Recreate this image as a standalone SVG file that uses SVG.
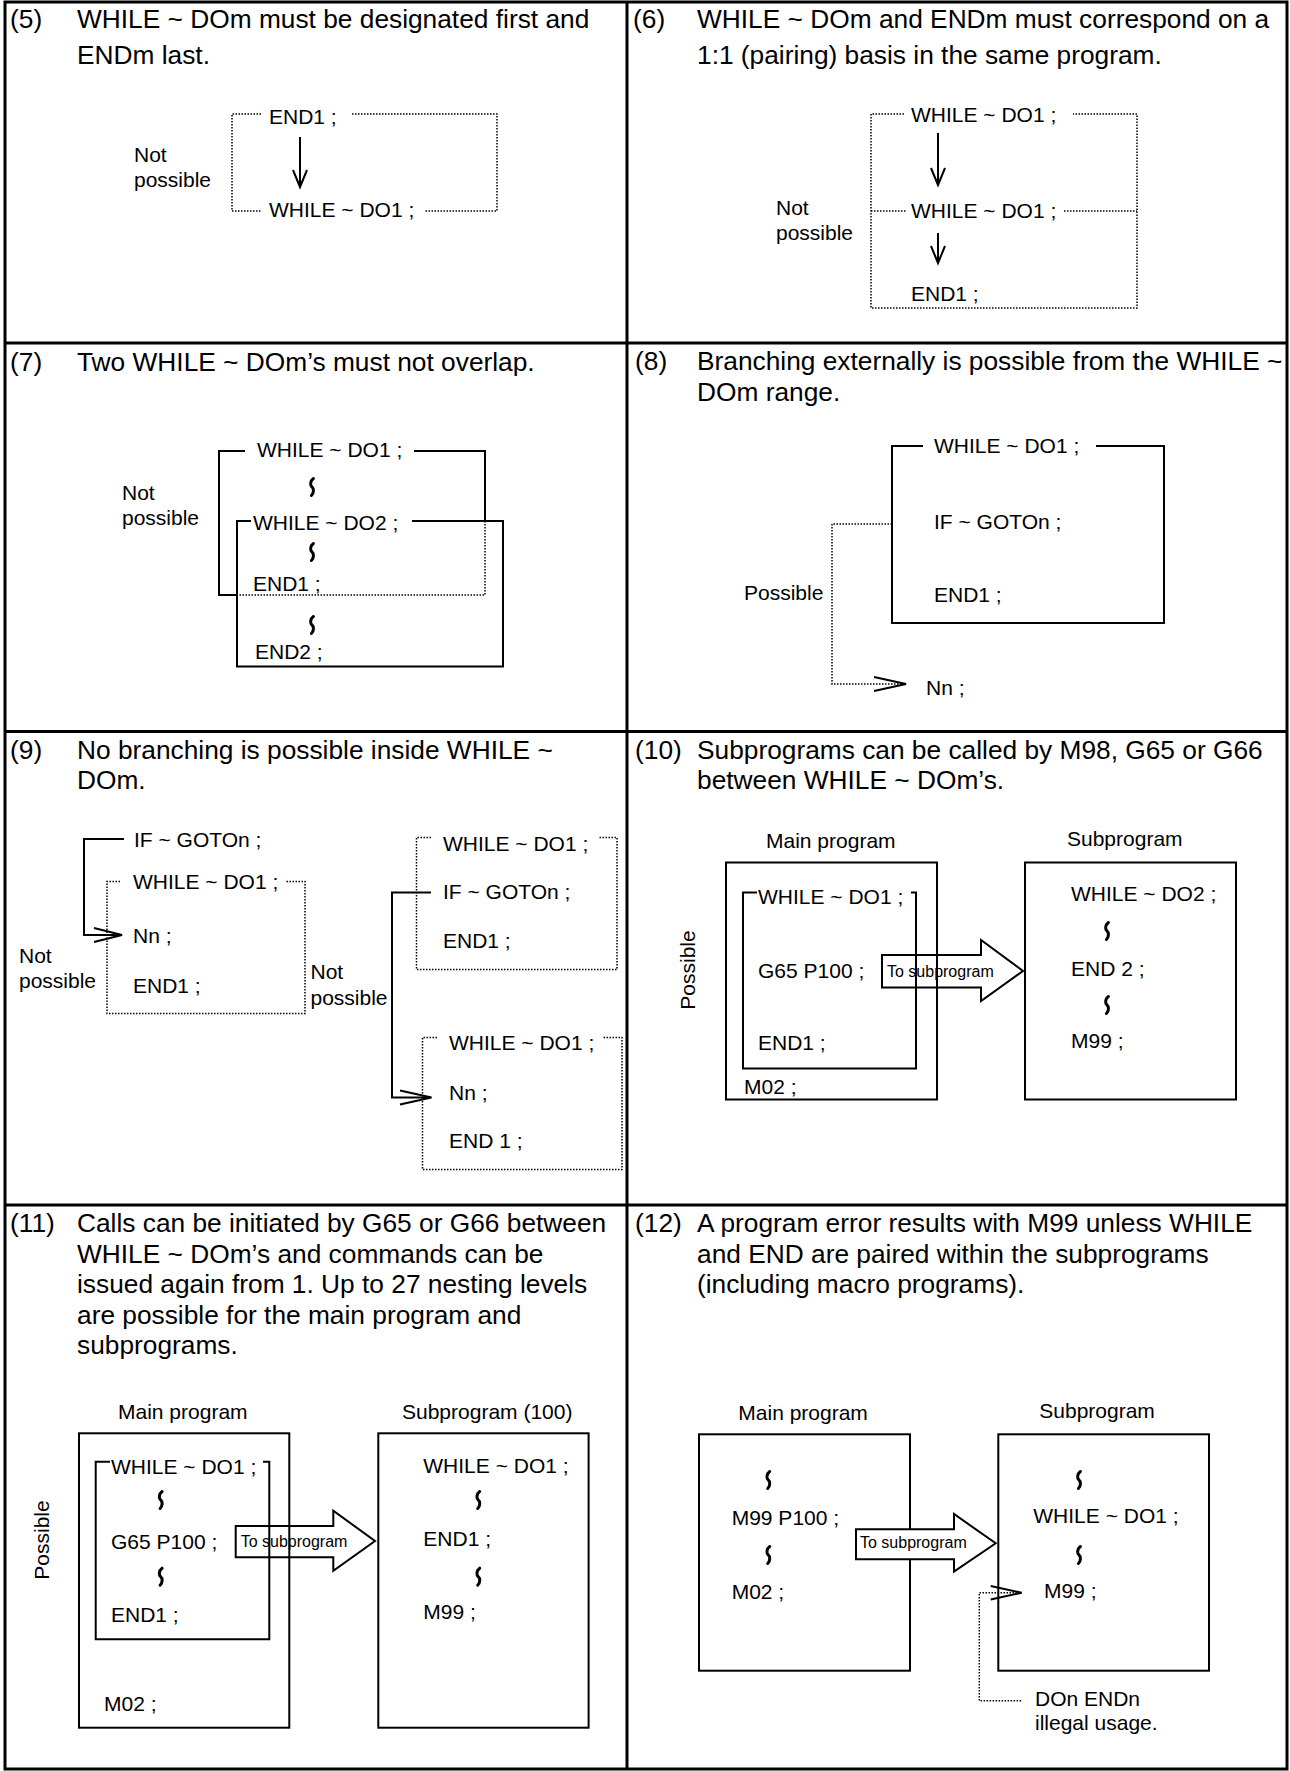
<svg xmlns="http://www.w3.org/2000/svg" width="1290" height="1771" viewBox="0 0 1290 1771">
<style>
text{font-family:"Liberation Sans",Arial,sans-serif;fill:#000}
.t{font-size:26.3px}
.d{font-size:21px}
.s{font-size:16px}
.ln{fill:none;stroke:#000;stroke-width:2}
.dt{fill:none;stroke:#000;stroke-width:1.5;stroke-dasharray:1.5 1.5}
.bd{fill:none;stroke:#000;stroke-width:3}
.wv{fill:none;stroke:#000;stroke-width:3;stroke-linecap:round}
.ah{fill:none;stroke:#000;stroke-width:2}
.big{fill:none;stroke:#000;stroke-width:2}
.bigw{fill:#fff;stroke:#000;stroke-width:2}
</style>
<defs>
<path id="wave" class="wv" d="M 1.4,-8.5 C -2,-6 -2,-1.5 0,0 C 2,1.5 2,6 -0.6,8.5"/>
</defs>
<rect width="1290" height="1771" fill="#fff"/>
<g id="frame">
<rect class="bd" x="5" y="2" width="1282" height="1767"/>
<line class="bd" x1="627" y1="2" x2="627" y2="1769"/>
<line class="bd" x1="5" y1="343" x2="1287" y2="343"/>
<line class="bd" x1="5" y1="731.5" x2="1287" y2="731.5"/>
<line class="bd" x1="5" y1="1205" x2="1287" y2="1205"/>
</g>

<!-- (5) -->
<g id="cell5">
<g id="t5"><text class="t" x="10" y="27.5">(5)</text><text class="t" x="77" y="27.5">WHILE ~ DOm must be designated first and</text><text class="t" x="77" y="64">ENDm last.</text></g>
<g id="n5a"><text class="d" x="269" y="124">END1 ;</text></g>
<g id="n5b"><text class="d" x="269" y="217">WHILE ~ DO1 ;</text></g>
<g id="n5c"><text class="d" x="134" y="162">Not</text><text class="d" x="134" y="187">possible</text></g>
<g id="c5">
<polyline class="dt" points="261,114 232,114 232,211 261,211"/>
<polyline class="dt" points="352,114 497,114 497,211 424,211"/>
<line class="ln" x1="300" y1="137" x2="300" y2="186"/>
<polyline class="ah" points="293,170 300,187 307,170"/>
</g>
</g>

<!-- (6) -->
<g id="cell6">
<g id="t6"><text class="t" x="633" y="27.5">(6)</text><text class="t" x="697" y="27.5">WHILE ~ DOm and ENDm must correspond on a</text><text class="t" x="697" y="64">1:1 (pairing) basis in the same program.</text></g>
<g id="n6a"><text class="d" x="911" y="122">WHILE ~ DO1 ;</text></g>
<g id="n6b"><text class="d" x="911" y="218">WHILE ~ DO1 ;</text></g>
<g id="n6c"><text class="d" x="911" y="301">END1 ;</text></g>
<g id="n6d"><text class="d" x="776" y="215">Not</text><text class="d" x="776" y="240">possible</text></g>
<g id="c6">
<polyline class="dt" points="904,114 871,114 871,308 1137,308 1137,114 1073,114"/>
<line class="dt" x1="871" y1="211" x2="906" y2="211"/>
<line class="dt" x1="1064" y1="211" x2="1137" y2="211"/>
<line class="ln" x1="938" y1="133" x2="938" y2="184"/>
<polyline class="ah" points="931,168 938,185 945,168"/>
<line class="ln" x1="938" y1="233" x2="938" y2="262"/>
<polyline class="ah" points="931,246 938,263 945,246"/>
</g>
</g>

<!-- (7) -->
<g id="cell7">
<g id="t7"><text class="t" x="10" y="371">(7)</text><text class="t" x="77" y="371">Two WHILE ~ DOm’s must not overlap.</text></g>
<g id="n7a"><text class="d" x="257" y="456.5">WHILE ~ DO1 ;</text></g>
<g id="n7b"><text class="d" x="253" y="530">WHILE ~ DO2 ;</text></g>
<g id="n7c"><text class="d" x="253" y="590.5">END1 ;</text></g>
<g id="n7d"><text class="d" x="255" y="659">END2 ;</text></g>
<g id="n7e"><text class="d" x="122" y="500">Not</text><text class="d" x="122" y="524.5">possible</text></g>
<g id="c7">
<polyline class="ln" points="245,451 219,451 219,595 237,595"/>
<polyline class="ln" points="414,451 485,451 485,521"/>
<polyline class="dt" points="485,521 485,595 237,595"/>
<polyline class="ln" points="251,521 237,521 237,666.5 503,666.5 503,521 412,521"/>
<use href="#wave" x="312" y="487"/>
<use href="#wave" x="312" y="552"/>
<use href="#wave" x="312" y="625"/>
</g>
</g>

<!-- (8) -->
<g id="cell8">
<g id="t8"><text class="t" x="635" y="370">(8)</text><text class="t" x="697" y="370">Branching externally is possible from the WHILE ~</text><text class="t" x="697" y="401">DOm range.</text></g>
<g id="n8a"><text class="d" x="934" y="453">WHILE ~ DO1 ;</text></g>
<g id="n8b"><text class="d" x="934" y="529">IF ~ GOTOn ;</text></g>
<g id="n8c"><text class="d" x="934" y="602">END1 ;</text></g>
<g id="n8d"><text class="d" x="926" y="695">Nn ;</text></g>
<g id="n8e"><text class="d" x="744" y="600">Possible</text></g>
<g id="c8">
<polyline class="ln" points="923,446 892,446 892,623 1164,623 1164,446 1096,446"/>
<polyline class="dt" points="892,524 832,524 832,684 904,684"/>
<polyline class="ah" points="874,677 906,684 874,691"/>
</g>
</g>

<!-- (9) -->
<g id="cell9">
<g id="t9"><text class="t" x="10" y="759">(9)</text><text class="t" x="77" y="759">No branching is possible inside WHILE ~</text><text class="t" x="77" y="789">DOm.</text></g>
<g id="n9a"><text class="d" x="134" y="846.5">IF ~ GOTOn ;</text></g>
<g id="n9b"><text class="d" x="133" y="888.5">WHILE ~ DO1 ;</text></g>
<g id="n9c"><text class="d" x="133" y="943">Nn ;</text></g>
<g id="n9d"><text class="d" x="133" y="993">END1 ;</text></g>
<g id="n9e"><text class="d" x="19" y="963">Not</text><text class="d" x="19" y="988">possible</text></g>
<g id="n9f"><text class="d" x="310.5" y="979">Not</text><text class="d" x="310.5" y="1005">possible</text></g>
<g id="n9g"><text class="d" x="443" y="850.5">WHILE ~ DO1 ;</text></g>
<g id="n9h"><text class="d" x="443" y="899">IF ~ GOTOn ;</text></g>
<g id="n9i"><text class="d" x="443" y="948">END1 ;</text></g>
<g id="n9j"><text class="d" x="449" y="1050">WHILE ~ DO1 ;</text></g>
<g id="n9k"><text class="d" x="449" y="1100">Nn ;</text></g>
<g id="n9l"><text class="d" x="449" y="1148">END 1 ;</text></g>
<g id="c9">
<polyline class="ln" points="124,839 84,839 84,935 120,935"/>
<polyline class="ah" points="94,928 122,935 94,942"/>
<polyline class="dt" points="120,881.5 107,881.5 107,1013.5 305,1013.5 305,881.5 286,881.5"/>
<polyline class="dt" points="431,837.5 416.5,837.5 416.5,969.5 617,969.5 617,837.5 598,837.5"/>
<polyline class="ln" points="431,892.5 392,892.5 392,1097.5 429,1097.5"/>
<polyline class="ah" points="400,1090.5 431.5,1097.5 400,1104.5"/>
<polyline class="dt" points="437,1037.5 422.5,1037.5 422.5,1169.5 622,1169.5 622,1037.5 602,1037.5"/>
</g>
</g>

<!-- (10) -->
<g id="cell10">
<g id="t10"><text class="t" x="635" y="759">(10)</text><text class="t" x="697" y="759">Subprograms can be called by M98, G65 or G66</text><text class="t" x="697" y="789">between WHILE ~ DOm’s.</text></g>
<g id="n10a"><text class="d" x="766" y="848">Main program</text></g>
<g id="n10b"><text class="d" x="1067" y="845.5">Subprogram</text></g>
<g id="n10c"><rect class="ln" x="726" y="862.5" width="211" height="237"/>
<text class="d" x="758" y="904">WHILE ~ DO1 ;</text>
<text class="d" x="758" y="977.5">G65 P100 ;</text>
<text class="d" x="758" y="1050">END1 ;</text>
<text class="d" x="744" y="1094">M02 ;</text></g>
<g id="n10d"><rect class="ln" x="1025" y="862.5" width="211" height="237"/>
<text class="d" x="1071" y="901">WHILE ~ DO2 ;</text>
<text class="d" x="1071" y="975.5">END 2 ;</text>
<text class="d" x="1071" y="1047.5">M99 ;</text>
<use href="#wave" x="1107" y="931"/>
<use href="#wave" x="1107" y="1005"/></g>
<g id="n10e"><text class="d" transform="translate(695.2,970) rotate(-90)" text-anchor="middle">Possible</text></g>
<g id="c10">
<polyline class="ln" points="757,892.5 743,892.5 743,1068.5 916,1068.5 916,892.5 911,892.5"/>
<polygon class="big" points="882,955 981,955 981,940 1023,971 981,1001 981,987.5 882,987.5"/>
<text class="s" x="887" y="976.5">To subprogram</text>
</g>
</g>

<!-- (11) -->
<g id="cell11">
<g id="t11"><text class="t" x="10" y="1232">(11)</text>
<text class="t" x="77" y="1232">Calls can be initiated by G65 or G66 between</text>
<text class="t" x="77" y="1262.5">WHILE ~ DOm’s and commands can be</text>
<text class="t" x="77" y="1293">issued again from 1. Up to 27 nesting levels</text>
<text class="t" x="77" y="1323.5">are possible for the main program and</text>
<text class="t" x="77" y="1354">subprograms.</text></g>
<g id="n11a"><text class="d" x="118" y="1419">Main program</text></g>
<g id="n11b"><text class="d" x="402" y="1419">Subprogram (100)</text></g>
<g id="n11c"><rect class="ln" x="79" y="1433.3" width="210.3" height="294.4"/>
<text class="d" x="111" y="1474">WHILE ~ DO1 ;</text>
<text class="d" x="111" y="1548.5">G65 P100 ;</text>
<text class="d" x="111" y="1621.5">END1 ;</text>
<text class="d" x="104" y="1710.8">M02 ;</text>
<use href="#wave" x="160.7" y="1500"/>
<use href="#wave" x="160.7" y="1576.7"/></g>
<g id="n11d"><rect class="ln" x="378.3" y="1433.3" width="210.3" height="294.4"/>
<text class="d" x="423.3" y="1472.5">WHILE ~ DO1 ;</text>
<text class="d" x="423.3" y="1545.8">END1 ;</text>
<text class="d" x="423.3" y="1619">M99 ;</text>
<use href="#wave" x="478.3" y="1500"/>
<use href="#wave" x="478.3" y="1576.7"/></g>
<g id="n11e"><text class="d" transform="translate(49.2,1540) rotate(-90)" text-anchor="middle">Possible</text></g>
<g id="c11">
<polyline class="ln" points="110,1461.7 95.7,1461.7 95.7,1639.3 269.3,1639.3 269.3,1461.7 263,1461.7"/>
<polygon class="big" points="235.7,1526 333.3,1526 333.3,1510.7 375,1541 333.3,1570.7 333.3,1557.3 235.7,1557.3"/>
<text class="s" x="240.7" y="1546.7">To subprogram</text>
</g>
</g>

<!-- (12) -->
<g id="cell12">
<g id="t12"><text class="t" x="635" y="1232">(12)</text>
<text class="t" x="697" y="1232">A program error results with M99 unless WHILE</text>
<text class="t" x="697" y="1262.5">and END are paired within the subprograms</text>
<text class="t" x="697" y="1293">(including macro programs).</text></g>
<g id="n12a"><text class="d" x="738.3" y="1419.8">Main program</text></g>
<g id="n12b"><text class="d" x="1039.3" y="1417.5">Subprogram</text></g>
<g id="n12c"><rect class="ln" x="699" y="1434.3" width="211" height="236.4"/>
<text class="d" x="731.7" y="1525.2">M99 P100 ;</text>
<text class="d" x="731.7" y="1599.2">M02 ;</text>
<use href="#wave" x="768.3" y="1480"/>
<use href="#wave" x="768.3" y="1555"/></g>
<g id="n12d"><rect class="ln" x="998.3" y="1434.3" width="210.7" height="236.4"/>
<text class="d" x="1033.3" y="1523.2">WHILE ~ DO1 ;</text>
<text class="d" x="1044" y="1597.5">M99 ;</text>
<use href="#wave" x="1079" y="1480"/>
<use href="#wave" x="1079" y="1555"/></g>
<g id="n12e"><text class="d" x="1035" y="1705.8">DOn ENDn</text><text class="d" x="1035" y="1730.2">illegal usage.</text></g>
<g id="c12">
<polygon class="bigw" points="856,1529.3 954,1529.3 954,1514 995.7,1543.3 954,1571.7 954,1559.3 856,1559.3"/>
<text class="s" x="860" y="1547.5">To subprogram</text>
<polyline class="dt" points="1020,1592.7 979.3,1592.7 979.3,1700.7 1022.7,1700.7"/>
<polyline class="ah" points="990.7,1586 1021.7,1592.7 990.7,1599.5"/>
</g>
</g>
</svg>
